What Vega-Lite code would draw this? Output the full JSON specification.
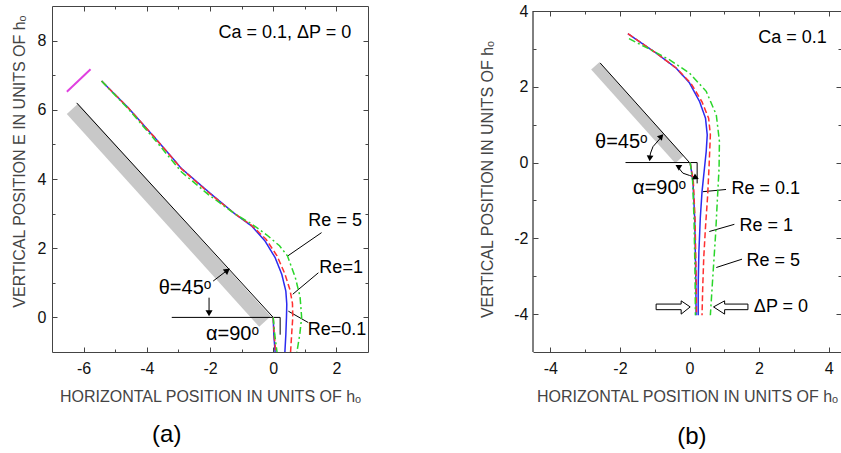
{
  "$schema": "https://vega.github.io/schema/vega-lite/v6.json",
  "padding": {"left": 10, "top": 3, "right": 0, "bottom": 0},
  "bounds": "flush",
  "spacing": 165,
  "config": {
    "view": {"stroke": "#444"},
    "axis": {"grid": false, "labelFont": "Liberation Sans", "labelFontSize": 16, "labelColor": "#111", "titleFont": "Liberation Sans", "titleFontSize": 16, "titleFontWeight": "normal", "titleColor": "#444", "domainColor": "#444", "tickColor": "#444"},
    "text": {"font": "Liberation Sans", "color": "black"}
  },
  "datasets": {
    "aBand": [{"i": 0, "x": -6.35, "y": 6.03}, {"i": 1, "x": -0.26, "y": -0.12}],
    "aMag": [{"i": 0, "x": -6.53, "y": 6.52}, {"i": 1, "x": -5.78, "y": 7.17}],
    "aLines": [
      {"g": "wall", "i": 0, "x": -6.22, "y": 6.2}, {"g": "wall", "i": 1, "x": 0, "y": 0},
      {"g": "h", "i": 0, "x": -3.21, "y": 0}, {"g": "h", "i": 1, "x": 0.22, "y": 0},
      {"g": "v", "i": 0, "x": 0.22, "y": 0}, {"g": "v", "i": 1, "x": 0.22, "y": -0.5},
      {"g": "p5", "i": 0, "x": 1.53, "y": 2.45}, {"g": "p5", "i": 1, "x": 0.45, "y": 1.77},
      {"g": "p1", "i": 0, "x": 1.43, "y": 1.29}, {"g": "p1", "i": 1, "x": 0.62, "y": 0.67},
      {"g": "p01", "i": 0, "x": 1.11, "y": -0.15}, {"g": "p01", "i": 1, "x": 0.48, "y": 0.18},
      {"g": "th", "i": 0, "x": -1.9, "y": 1.05}, {"g": "th", "i": 1, "x": -1.47, "y": 1.35},
      {"g": "dn", "i": 0, "x": -2.03, "y": 0.57}, {"g": "dn", "i": 1, "x": -2.03, "y": 0.15}
    ],
    "aCurves": [
      {"s": "Re = 0.1", "p": "o", "i": 0, "x": -5.43, "y": 6.83},
      {"s": "Re = 0.1", "p": "o", "i": 1, "x": -4.59, "y": 6.06},
      {"s": "Re = 0.1", "p": "o", "i": 2, "x": -3.74, "y": 5.19},
      {"s": "Re = 0.1", "p": "o", "i": 3, "x": -2.9, "y": 4.3},
      {"s": "Re = 0.1", "p": "o", "i": 4, "x": -2.05, "y": 3.63},
      {"s": "Re = 0.1", "p": "o", "i": 5, "x": -1.21, "y": 2.99},
      {"s": "Re = 0.1", "p": "o", "i": 6, "x": -0.68, "y": 2.64},
      {"s": "Re = 0.1", "p": "o", "i": 7, "x": -0.26, "y": 2.21},
      {"s": "Re = 0.1", "p": "o", "i": 8, "x": 0.06, "y": 1.73},
      {"s": "Re = 0.1", "p": "o", "i": 9, "x": 0.27, "y": 1.25},
      {"s": "Re = 0.1", "p": "o", "i": 10, "x": 0.4, "y": 0.76},
      {"s": "Re = 0.1", "p": "o", "i": 11, "x": 0.43, "y": 0.38},
      {"s": "Re = 0.1", "p": "o", "i": 12, "x": 0.42, "y": 0.0},
      {"s": "Re = 0.1", "p": "o", "i": 13, "x": 0.4, "y": -0.5},
      {"s": "Re = 0.1", "p": "o", "i": 14, "x": 0.37, "y": -1.0},
      {"s": "Re = 1", "p": "o", "i": 0, "x": -5.43, "y": 6.83},
      {"s": "Re = 1", "p": "o", "i": 1, "x": -4.59, "y": 6.06},
      {"s": "Re = 1", "p": "o", "i": 2, "x": -3.74, "y": 5.19},
      {"s": "Re = 1", "p": "o", "i": 3, "x": -2.9, "y": 4.29},
      {"s": "Re = 1", "p": "o", "i": 4, "x": -2.05, "y": 3.61},
      {"s": "Re = 1", "p": "o", "i": 5, "x": -1.21, "y": 2.99},
      {"s": "Re = 1", "p": "o", "i": 6, "x": -0.68, "y": 2.66},
      {"s": "Re = 1", "p": "o", "i": 7, "x": -0.22, "y": 2.25},
      {"s": "Re = 1", "p": "o", "i": 8, "x": 0.12, "y": 1.78},
      {"s": "Re = 1", "p": "o", "i": 9, "x": 0.36, "y": 1.28},
      {"s": "Re = 1", "p": "o", "i": 10, "x": 0.53, "y": 0.8},
      {"s": "Re = 1", "p": "o", "i": 11, "x": 0.61, "y": 0.4},
      {"s": "Re = 1", "p": "o", "i": 12, "x": 0.62, "y": 0.0},
      {"s": "Re = 1", "p": "o", "i": 13, "x": 0.59, "y": -0.4},
      {"s": "Re = 1", "p": "o", "i": 14, "x": 0.55, "y": -1.0},
      {"s": "Re = 5", "p": "o", "i": 0, "x": -5.43, "y": 6.83},
      {"s": "Re = 5", "p": "o", "i": 1, "x": -4.6, "y": 6.04},
      {"s": "Re = 5", "p": "o", "i": 2, "x": -3.74, "y": 5.13},
      {"s": "Re = 5", "p": "o", "i": 3, "x": -2.9, "y": 4.2},
      {"s": "Re = 5", "p": "o", "i": 4, "x": -2.05, "y": 3.55},
      {"s": "Re = 5", "p": "o", "i": 5, "x": -1.21, "y": 2.99},
      {"s": "Re = 5", "p": "o", "i": 6, "x": -0.68, "y": 2.7},
      {"s": "Re = 5", "p": "o", "i": 7, "x": -0.2, "y": 2.38},
      {"s": "Re = 5", "p": "o", "i": 8, "x": 0.2, "y": 2.07},
      {"s": "Re = 5", "p": "o", "i": 9, "x": 0.45, "y": 1.78},
      {"s": "Re = 5", "p": "o", "i": 10, "x": 0.7, "y": 1.15},
      {"s": "Re = 5", "p": "o", "i": 11, "x": 0.85, "y": 0.6},
      {"s": "Re = 5", "p": "o", "i": 12, "x": 0.9, "y": 0.0},
      {"s": "Re = 5", "p": "o", "i": 13, "x": 0.84, "y": -0.5},
      {"s": "Re = 5", "p": "o", "i": 14, "x": 0.75, "y": -1.0},
      {"s": "Re = 0.1", "p": "in", "i": 0, "x": 0.0, "y": 0.0},
      {"s": "Re = 0.1", "p": "in", "i": 1, "x": 0.02, "y": -0.5},
      {"s": "Re = 0.1", "p": "in", "i": 2, "x": 0.06, "y": -1.0},
      {"s": "Re = 1", "p": "in", "i": 0, "x": 0.0, "y": 0.0},
      {"s": "Re = 1", "p": "in", "i": 1, "x": 0.03, "y": -0.5},
      {"s": "Re = 1", "p": "in", "i": 2, "x": 0.08, "y": -1.0},
      {"s": "Re = 5", "p": "in", "i": 0, "x": 0.0, "y": 0.0},
      {"s": "Re = 5", "p": "in", "i": 1, "x": 0.05, "y": -0.5},
      {"s": "Re = 5", "p": "in", "i": 2, "x": 0.12, "y": -1.0}
    ],
    "aHeads": [{"k": "ne", "x": -1.45, "y": 1.36}, {"k": "s", "x": -2.03, "y": 0.12}],
    "aText": [
      {"k": "n", "t": "Ca = 0.1, ΔP = 0", "x": 0.37, "y": 8.22},
      {"k": "n", "t": "Re = 5", "x": 1.96, "y": 2.79},
      {"k": "n", "t": "Re=1", "x": 2.15, "y": 1.43},
      {"k": "n", "t": "Re=0.1", "x": 2.02, "y": -0.36},
      {"k": "g", "t": "θ=45ᵒ", "x": -2.79, "y": 0.85},
      {"k": "g", "t": "α=90ᵒ", "x": -1.29, "y": -0.48},
      {"k": "l", "t": "(a)", "x": -3.37, "y": -3.4}
    ],
    "bBand": [{"i": 0, "x": -2.71, "y": 2.55}, {"i": 1, "x": -0.29, "y": 0.08}],
    "bLines": [
      {"g": "wall", "i": 0, "x": -2.57, "y": 2.63}, {"g": "wall", "i": 1, "x": 0, "y": 0},
      {"g": "h", "i": 0, "x": -1.84, "y": 0}, {"g": "h", "i": 1, "x": 0.22, "y": 0},
      {"g": "v", "i": 0, "x": 0.22, "y": 0}, {"g": "v", "i": 1, "x": 0.22, "y": -0.55},
      {"g": "p01", "i": 0, "x": 1.05, "y": -0.71}, {"g": "p01", "i": 1, "x": 0.38, "y": -0.77},
      {"g": "p1", "i": 0, "x": 1.29, "y": -1.63}, {"g": "p1", "i": 1, "x": 0.57, "y": -1.82},
      {"g": "p5", "i": 0, "x": 1.51, "y": -2.55}, {"g": "p5", "i": 1, "x": 0.77, "y": -2.77},
      {"g": "th", "i": 0, "x": -0.84, "y": 0.64}, {"g": "th", "i": 1, "x": -1.05, "y": 0.42},
      {"g": "th", "i": 2, "x": -1.12, "y": 0.25}, {"g": "th", "i": 3, "x": -1.15, "y": 0.11},
      {"g": "al", "i": 0, "x": -0.34, "y": -0.11}, {"g": "al", "i": 1, "x": -0.19, "y": -0.28},
      {"g": "al", "i": 2, "x": 0.0, "y": -0.34}, {"g": "al", "i": 3, "x": 0.19, "y": -0.4},
      {"g": "frame", "i": 0, "x": -4.5, "y": -5}, {"g": "frame", "i": 1, "x": -4.5, "y": 4},
      {"g": "la", "i": 0, "x": -0.96, "y": -3.735}, {"g": "la", "i": 1, "x": -0.24, "y": -3.735},
      {"g": "la", "i": 2, "x": -0.24, "y": -3.65}, {"g": "la", "i": 3, "x": 0.02, "y": -3.81},
      {"g": "la", "i": 4, "x": -0.24, "y": -4.0}, {"g": "la", "i": 5, "x": -0.24, "y": -3.883},
      {"g": "la", "i": 6, "x": -0.96, "y": -3.883}, {"g": "la", "i": 7, "x": -0.96, "y": -3.735},
      {"g": "ra", "i": 0, "x": 1.68, "y": -3.735}, {"g": "ra", "i": 1, "x": 1.01, "y": -3.735},
      {"g": "ra", "i": 2, "x": 1.01, "y": -3.65}, {"g": "ra", "i": 3, "x": 0.69, "y": -3.81},
      {"g": "ra", "i": 4, "x": 1.01, "y": -4.0}, {"g": "ra", "i": 5, "x": 1.01, "y": -3.883},
      {"g": "ra", "i": 6, "x": 1.68, "y": -3.883}, {"g": "ra", "i": 7, "x": 1.68, "y": -3.735}
    ],
    "bCurves": [
      {"s": "Re = 0.1", "p": "o", "i": 0, "x": -1.77, "y": 3.4},
      {"s": "Re = 0.1", "p": "o", "i": 1, "x": -0.96, "y": 2.89},
      {"s": "Re = 0.1", "p": "o", "i": 2, "x": -0.38, "y": 2.49},
      {"s": "Re = 0.1", "p": "o", "i": 3, "x": 0.0, "y": 2.1},
      {"s": "Re = 0.1", "p": "o", "i": 4, "x": 0.29, "y": 1.61},
      {"s": "Re = 0.1", "p": "o", "i": 5, "x": 0.46, "y": 1.17},
      {"s": "Re = 0.1", "p": "o", "i": 6, "x": 0.51, "y": 0.73},
      {"s": "Re = 0.1", "p": "o", "i": 7, "x": 0.48, "y": 0.29},
      {"s": "Re = 0.1", "p": "o", "i": 8, "x": 0.43, "y": -0.15},
      {"s": "Re = 0.1", "p": "o", "i": 9, "x": 0.36, "y": -0.77},
      {"s": "Re = 0.1", "p": "o", "i": 10, "x": 0.31, "y": -1.47},
      {"s": "Re = 0.1", "p": "o", "i": 11, "x": 0.27, "y": -2.35},
      {"s": "Re = 0.1", "p": "o", "i": 12, "x": 0.25, "y": -3.23},
      {"s": "Re = 0.1", "p": "o", "i": 13, "x": 0.25, "y": -4.03},
      {"s": "Re = 1", "p": "o", "i": 0, "x": -1.77, "y": 3.4},
      {"s": "Re = 1", "p": "o", "i": 1, "x": -0.96, "y": 2.89},
      {"s": "Re = 1", "p": "o", "i": 2, "x": -0.36, "y": 2.48},
      {"s": "Re = 1", "p": "o", "i": 3, "x": 0.05, "y": 2.08},
      {"s": "Re = 1", "p": "o", "i": 4, "x": 0.36, "y": 1.6},
      {"s": "Re = 1", "p": "o", "i": 5, "x": 0.55, "y": 1.17},
      {"s": "Re = 1", "p": "o", "i": 6, "x": 0.6, "y": 0.73},
      {"s": "Re = 1", "p": "o", "i": 7, "x": 0.58, "y": 0.29},
      {"s": "Re = 1", "p": "o", "i": 8, "x": 0.56, "y": -0.15},
      {"s": "Re = 1", "p": "o", "i": 9, "x": 0.52, "y": -0.9},
      {"s": "Re = 1", "p": "o", "i": 10, "x": 0.46, "y": -1.7},
      {"s": "Re = 1", "p": "o", "i": 11, "x": 0.41, "y": -2.5},
      {"s": "Re = 1", "p": "o", "i": 12, "x": 0.38, "y": -3.3},
      {"s": "Re = 1", "p": "o", "i": 13, "x": 0.36, "y": -4.03},
      {"s": "Re = 5", "p": "o", "i": 0, "x": -1.74, "y": 3.27},
      {"s": "Re = 5", "p": "o", "i": 1, "x": -1.1, "y": 2.97},
      {"s": "Re = 5", "p": "o", "i": 2, "x": -0.57, "y": 2.71},
      {"s": "Re = 5", "p": "o", "i": 3, "x": 0.0, "y": 2.36},
      {"s": "Re = 5", "p": "o", "i": 4, "x": 0.48, "y": 1.88},
      {"s": "Re = 5", "p": "o", "i": 5, "x": 0.77, "y": 1.26},
      {"s": "Re = 5", "p": "o", "i": 6, "x": 0.86, "y": 0.56},
      {"s": "Re = 5", "p": "o", "i": 7, "x": 0.85, "y": -0.15},
      {"s": "Re = 5", "p": "o", "i": 8, "x": 0.8, "y": -1.0},
      {"s": "Re = 5", "p": "o", "i": 9, "x": 0.75, "y": -1.9},
      {"s": "Re = 5", "p": "o", "i": 10, "x": 0.7, "y": -2.6},
      {"s": "Re = 5", "p": "o", "i": 11, "x": 0.65, "y": -3.3},
      {"s": "Re = 5", "p": "o", "i": 12, "x": 0.6, "y": -4.03},
      {"s": "Re = 0.1", "p": "in", "i": 0, "x": 0.02, "y": 0.0},
      {"s": "Re = 0.1", "p": "in", "i": 1, "x": 0.1, "y": -0.5},
      {"s": "Re = 0.1", "p": "in", "i": 2, "x": 0.15, "y": -1.5},
      {"s": "Re = 0.1", "p": "in", "i": 3, "x": 0.18, "y": -3.0},
      {"s": "Re = 0.1", "p": "in", "i": 4, "x": 0.19, "y": -4.03},
      {"s": "Re = 1", "p": "in", "i": 0, "x": 0.02, "y": 0.0},
      {"s": "Re = 1", "p": "in", "i": 1, "x": 0.11, "y": -0.5},
      {"s": "Re = 1", "p": "in", "i": 2, "x": 0.16, "y": -1.5},
      {"s": "Re = 1", "p": "in", "i": 3, "x": 0.19, "y": -3.0},
      {"s": "Re = 1", "p": "in", "i": 4, "x": 0.2, "y": -4.03},
      {"s": "Re = 5", "p": "in", "i": 0, "x": 0.02, "y": 0.0},
      {"s": "Re = 5", "p": "in", "i": 1, "x": 0.09, "y": -0.5},
      {"s": "Re = 5", "p": "in", "i": 2, "x": 0.13, "y": -1.5},
      {"s": "Re = 5", "p": "in", "i": 3, "x": 0.16, "y": -3.0},
      {"s": "Re = 5", "p": "in", "i": 4, "x": 0.17, "y": -4.03}
    ],
    "bHeads": [
      {"k": "t1", "x": -0.81, "y": 0.69},
      {"k": "t2", "x": -1.14, "y": 0.11},
      {"k": "a1", "x": -0.33, "y": -0.1},
      {"k": "a2", "x": 0.19, "y": -0.4}
    ],
    "bText": [
      {"k": "n", "t": "Ca = 0.1", "x": 2.96, "y": 3.3},
      {"k": "n", "t": "Re = 0.1", "x": 2.19, "y": -0.7},
      {"k": "n", "t": "Re = 1", "x": 2.21, "y": -1.67},
      {"k": "n", "t": "Re = 5", "x": 2.41, "y": -2.59},
      {"k": "n", "t": "ΔP = 0", "x": 2.63, "y": -3.82},
      {"k": "g", "t": "θ=45ᵒ", "x": -1.96, "y": 0.53},
      {"k": "g", "t": "α=90ᵒ", "x": -0.86, "y": -0.66},
      {"k": "l", "t": "(b)", "x": 0.07, "y": -7.24}
    ]
  },
  "hconcat": [
    {
      "width": 316, "height": 346,
      "view": {"stroke": "#444"},
      "resolve": {"axis": {"x": "independent", "y": "independent"}},
      "layer": [
        {
          "data": {"name": "aBand"},
          "mark": {"type": "line", "color": "#c8c8c8", "strokeWidth": 15.5, "strokeCap": "butt"},
          "encoding": {
            "x": {"field": "x", "type": "quantitative", "scale": {"domain": [-7, 3], "nice": false, "zero": false},
              "axis": {"orient": "bottom", "values": [-6, -4, -2, 0, 2], "tickSize": -5, "labelPadding": 13, "labelExpr": "'' + datum.value", "domain": false, "title": "HORIZONTAL POSITION IN UNITS OF hₒ", "titlePadding": 12}},
            "y": {"field": "y", "type": "quantitative", "scale": {"domain": [-1, 9], "nice": false, "zero": false},
              "axis": {"orient": "left", "values": [0, 2, 4, 6, 8], "tickSize": -5, "labelPadding": 11, "labelExpr": "'' + datum.value", "domain": false, "title": "VERTICAL POSITION E IN UNITS OF hₒ", "titlePadding": 10, "titleY": 155}},
            "order": {"field": "i", "type": "quantitative"}
          }
        },
        {
          "data": {"name": "aLines"},
          "mark": {"type": "line", "color": "black", "strokeWidth": 1},
          "encoding": {
            "x": {"field": "x", "type": "quantitative", "axis": {"orient": "top", "values": [-6, -4, -2, 0, 2], "tickSize": -5, "labels": false, "domain": false, "title": null}},
            "y": {"field": "y", "type": "quantitative", "axis": {"orient": "right", "values": [0, 2, 4, 6, 8], "tickSize": -5, "labels": false, "domain": false, "title": null}},
            "detail": {"field": "g"},
            "order": {"field": "i", "type": "quantitative"}
          }
        },
        {
          "data": {"name": "aMag"},
          "mark": {"type": "line", "color": "#e040e0", "strokeWidth": 2},
          "encoding": {
            "x": {"field": "x", "type": "quantitative", "axis": {"orient": "bottom", "values": [-5, -3, -1, 1], "tickSize": -3, "labels": false, "domain": false, "title": null}},
            "y": {"field": "y", "type": "quantitative", "axis": {"orient": "left", "values": [1, 3, 5, 7], "tickSize": -3, "labels": false, "domain": false, "title": null}},
            "order": {"field": "i", "type": "quantitative"}
          }
        },
        {
          "data": {"name": "aCurves"},
          "mark": {"type": "line", "strokeWidth": 1.5},
          "encoding": {
            "x": {"field": "x", "type": "quantitative", "axis": {"orient": "top", "values": [-5, -3, -1, 1], "tickSize": -3, "labels": false, "domain": false, "title": null}},
            "y": {"field": "y", "type": "quantitative", "axis": {"orient": "right", "values": [1, 3, 5, 7], "tickSize": -3, "labels": false, "domain": false, "title": null}},
            "color": {"field": "s", "type": "nominal", "scale": {"domain": ["Re = 0.1", "Re = 1", "Re = 5"], "range": ["#2b2bf0", "#ff3030", "#2ad62a"]}, "legend": null},
            "strokeDash": {"field": "s", "type": "nominal", "scale": {"domain": ["Re = 0.1", "Re = 1", "Re = 5"], "range": [[1, 0], [6, 3], [7, 3, 2, 3]]}, "legend": null},
            "detail": {"field": "p"},
            "order": {"field": "i", "type": "quantitative"}
          }
        },
        {
          "data": {"name": "aHeads"},
          "transform": [{"filter": "datum.k === 'ne'"}],
          "mark": {"type": "point", "shape": "triangle-up", "filled": true, "color": "black", "opacity": 1, "size": 50, "angle": 52},
          "encoding": {
            "x": {"field": "x", "type": "quantitative", "axis": null},
            "y": {"field": "y", "type": "quantitative", "axis": null}
          }
        },
        {
          "data": {"name": "aHeads"},
          "transform": [{"filter": "datum.k === 's'"}],
          "mark": {"type": "point", "shape": "triangle-up", "filled": true, "color": "black", "opacity": 1, "size": 50, "angle": 180},
          "encoding": {
            "x": {"field": "x", "type": "quantitative", "axis": null},
            "y": {"field": "y", "type": "quantitative", "axis": null}
          }
        },
        {
          "data": {"name": "aText"},
          "transform": [{"filter": "datum.k === 'n'"}],
          "mark": {"type": "text", "fontSize": 18, "baseline": "middle"},
          "encoding": {
            "x": {"field": "x", "type": "quantitative", "axis": null},
            "y": {"field": "y", "type": "quantitative", "axis": null},
            "text": {"field": "t"}
          }
        },
        {
          "data": {"name": "aText"},
          "transform": [{"filter": "datum.k === 'g'"}],
          "mark": {"type": "text", "fontSize": 20, "baseline": "middle"},
          "encoding": {
            "x": {"field": "x", "type": "quantitative", "axis": null},
            "y": {"field": "y", "type": "quantitative", "axis": null},
            "text": {"field": "t"}
          }
        },
        {
          "data": {"name": "aText"},
          "transform": [{"filter": "datum.k === 'l'"}],
          "mark": {"type": "text", "fontSize": 24, "baseline": "middle"},
          "encoding": {
            "x": {"field": "x", "type": "quantitative", "axis": null},
            "y": {"field": "y", "type": "quantitative", "axis": null},
            "text": {"field": "t"}
          }
        }
      ]
    },
    {
      "width": 308, "height": 346,
      "view": {"stroke": null},
      "resolve": {"axis": {"x": "independent", "y": "independent"}},
      "layer": [
        {
          "data": {"name": "bBand"},
          "mark": {"type": "line", "color": "#c8c8c8", "strokeWidth": 11, "strokeCap": "butt"},
          "encoding": {
            "x": {"field": "x", "type": "quantitative", "scale": {"domain": [-4.5, 4.356], "nice": false, "zero": false},
              "axis": {"orient": "bottom", "values": [-4, -2, 0, 2, 4], "tickSize": -5, "labelPadding": 13, "labelExpr": "'' + datum.value", "domain": true, "title": "HORIZONTAL POSITION IN UNITS OF hₒ", "titlePadding": 12}},
            "y": {"field": "y", "type": "quantitative", "scale": {"domain": [-5, 4.132], "nice": false, "zero": false},
              "axis": {"orient": "left", "values": [-4, -2, 0, 2, 4], "tickSize": -5, "labelPadding": 10, "labelExpr": "'' + datum.value", "domain": false, "title": "VERTICAL POSITION IN UNITS OF hₒ", "titlePadding": 18}},
            "order": {"field": "i", "type": "quantitative"}
          }
        },
        {
          "data": {"name": "bLines"},
          "mark": {"type": "line", "color": "black", "strokeWidth": 1},
          "encoding": {
            "x": {"field": "x", "type": "quantitative", "axis": {"orient": "top", "offset": -5, "values": [-4, -2, 0, 2, 4], "tickSize": -5, "labels": false, "domain": true, "title": null}},
            "y": {"field": "y", "type": "quantitative", "axis": {"orient": "right", "values": [-4, -2, 0, 2, 4], "tickSize": -5, "labels": false, "domain": true, "title": null}},
            "detail": {"field": "g"},
            "order": {"field": "i", "type": "quantitative"}
          }
        },
        {
          "data": {"name": "bCurves"},
          "mark": {"type": "line", "strokeWidth": 1.5},
          "encoding": {
            "x": {"field": "x", "type": "quantitative", "axis": {"orient": "bottom", "values": [-3, -1, 1, 3], "tickSize": -3, "labels": false, "domain": false, "title": null}},
            "y": {"field": "y", "type": "quantitative", "axis": {"orient": "left", "values": [-3, -1, 1, 3], "tickSize": -3, "labels": false, "domain": false, "title": null}},
            "color": {"field": "s", "type": "nominal", "scale": {"domain": ["Re = 0.1", "Re = 1", "Re = 5"], "range": ["#2b2bf0", "#ff3030", "#2ad62a"]}, "legend": null},
            "strokeDash": {"field": "s", "type": "nominal", "scale": {"domain": ["Re = 0.1", "Re = 1", "Re = 5"], "range": [[1, 0], [6, 3], [7, 3, 2, 3]]}, "legend": null},
            "detail": {"field": "p"},
            "order": {"field": "i", "type": "quantitative"}
          }
        },
        {
          "data": {"name": "bText"},
          "transform": [{"filter": "datum.k === 'n'"}],
          "mark": {"type": "text", "fontSize": 18, "baseline": "middle"},
          "encoding": {
            "x": {"field": "x", "type": "quantitative", "axis": {"orient": "top", "offset": -5, "values": [-3, -1, 1, 3], "tickSize": -3, "labels": false, "domain": false, "title": null}},
            "y": {"field": "y", "type": "quantitative", "axis": {"orient": "right", "values": [-3, -1, 1, 3], "tickSize": -3, "labels": false, "domain": false, "title": null}},
            "text": {"field": "t"}
          }
        },
        {
          "data": {"name": "bText"},
          "transform": [{"filter": "datum.k === 'g'"}],
          "mark": {"type": "text", "fontSize": 20, "baseline": "middle"},
          "encoding": {
            "x": {"field": "x", "type": "quantitative", "axis": null},
            "y": {"field": "y", "type": "quantitative", "axis": null},
            "text": {"field": "t"}
          }
        },
        {
          "data": {"name": "bText"},
          "transform": [{"filter": "datum.k === 'l'"}],
          "mark": {"type": "text", "fontSize": 24, "baseline": "middle"},
          "encoding": {
            "x": {"field": "x", "type": "quantitative", "axis": null},
            "y": {"field": "y", "type": "quantitative", "axis": null},
            "text": {"field": "t"}
          }
        },
        {
          "data": {"name": "bHeads"},
          "transform": [{"filter": "datum.k === 't1'"}],
          "mark": {"type": "point", "shape": "triangle-up", "filled": true, "color": "black", "opacity": 1, "size": 45, "angle": 42},
          "encoding": {
            "x": {"field": "x", "type": "quantitative", "axis": null},
            "y": {"field": "y", "type": "quantitative", "axis": null}
          }
        },
        {
          "data": {"name": "bHeads"},
          "transform": [{"filter": "datum.k === 't2'"}],
          "mark": {"type": "point", "shape": "triangle-up", "filled": true, "color": "black", "opacity": 1, "size": 45, "angle": 185},
          "encoding": {
            "x": {"field": "x", "type": "quantitative", "axis": null},
            "y": {"field": "y", "type": "quantitative", "axis": null}
          }
        },
        {
          "data": {"name": "bHeads"},
          "transform": [{"filter": "datum.k === 'a1'"}],
          "mark": {"type": "point", "shape": "triangle-up", "filled": true, "color": "black", "opacity": 1, "size": 45, "angle": 300},
          "encoding": {
            "x": {"field": "x", "type": "quantitative", "axis": null},
            "y": {"field": "y", "type": "quantitative", "axis": null}
          }
        },
        {
          "data": {"name": "bHeads"},
          "transform": [{"filter": "datum.k === 'a2'"}],
          "mark": {"type": "point", "shape": "triangle-up", "filled": true, "color": "black", "opacity": 1, "size": 45, "angle": 115},
          "encoding": {
            "x": {"field": "x", "type": "quantitative", "axis": null},
            "y": {"field": "y", "type": "quantitative", "axis": null}
          }
        }
      ]
    }
  ]
}
